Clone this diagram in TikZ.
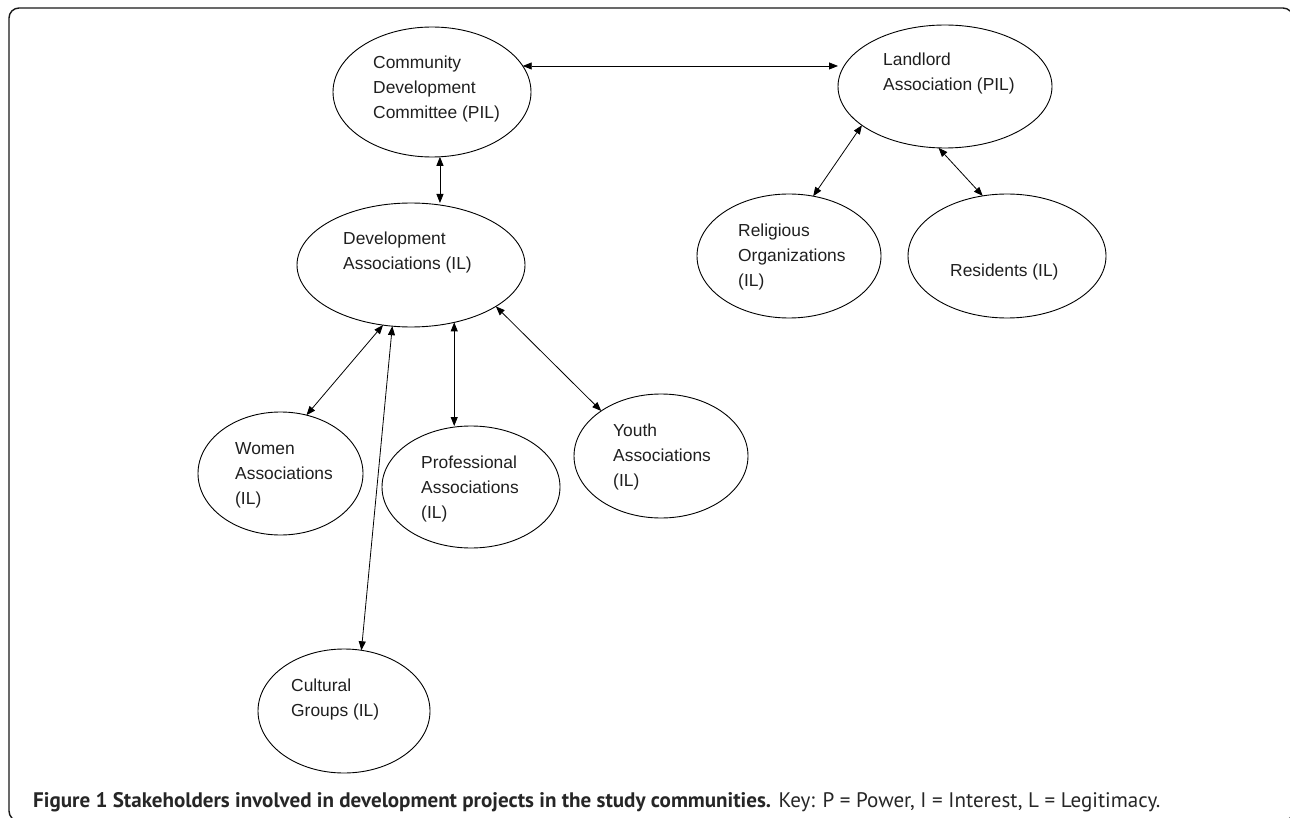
\documentclass[tikz,border=0pt]{standalone}
\usepackage{graphicx}
\usepackage{fontspec}
\setmainfont{Liberation Sans}
\newfontfamily\capfont{PT Sans}
\usetikzlibrary{shapes.geometric,arrows.meta}
\begin{document}
\begin{tikzpicture}[x=1pt,y=-1pt,
  ell/.style={ellipse,draw=black,line width=0.9pt,inner sep=0pt,outer sep=0pt},
  lbl/.style={anchor=base west,align=left,inner sep=0pt,font=\fontsize{17.4}{25}\selectfont,text=black!88},
  link/.style={{Triangle[length=9pt,width=7pt]}-{Triangle[length=9pt,width=7pt]},line width=0.8pt},
  frame/.style={draw=black!90,line width=1.4pt,rounded corners=10pt}
]
\useasboundingbox (0,0) rectangle (1290,818);
\draw[frame] (9,8) rectangle (1293,821);

% ellipses
\node[ell,minimum width=198pt,minimum height=130pt] (cdc) at (432,92) {};
\node[ell,minimum width=214pt,minimum height=123pt] (land) at (945,86.5) {};
\node[ell,minimum width=228pt,minimum height=124pt] (dev) at (411,265) {};
\node[ell,minimum width=184pt,minimum height=124pt] (rel) at (789,256) {};
\node[ell,minimum width=198pt,minimum height=124pt] (res) at (1007,256) {};
\node[ell,minimum width=165pt,minimum height=123pt] (wom) at (280.5,473.5) {};
\node[ell,minimum width=178pt,minimum height=122pt] (pro) at (471,487) {};
\node[ell,minimum width=174pt,minimum height=124pt] (you) at (661,456) {};
\node[ell,minimum width=172pt,minimum height=124pt] (cul) at (344,711) {};

% labels (base = baseline of the last line)
\node[lbl] (tcdc) at (373,119) {Community\\Development\\Committee (PIL)};
\node[lbl] (tland) at (883,91) {Landlord\\Association (PIL)};
\node[lbl] (tdev) at (343,270) {Development\\Associations (IL)};
\node[lbl] (trel) at (738,287) {Religious\\Organizations\\(IL)};
\node[lbl] (tres) at (950,277) {Residents (IL)};
\node[lbl] (twom) at (235,504) {Women\\Associations\\(IL)};
\node[lbl] (tpro) at (421,518) {Professional\\Associations\\(IL)};
\node[lbl] (tyou) at (613,486) {Youth\\Associations\\(IL)};
\node[lbl] (tcul) at (291,716) {Cultural\\Groups (IL)};

% connectors
\draw[link] (cdc.16) -- (cdc.16 -| land.west);
\draw[link] (cdc.-83) -- (cdc.-83 |- dev.north);
\draw[link] (dev.245) -- (wom.66);
\draw[link] (dev.253) -- (cul.74);
\draw[link] (dev.-53) -- (dev.-53 |- pro.north);
\draw[link] (dev.-26) -- (you.143);
\draw[link] (land.205) -- (rel.68);
\draw[link] (land.264) -- (res.112);

% caption
\node[anchor=base west,inner sep=0pt,text=black!85] (cap) at (33,807) {\resizebox{1127pt}{!}{\capfont\textbf{Figure 1 Stakeholders involved in development projects in the study communities.} Key: P = Power, I = Interest, L = Legitimacy.}};
\end{tikzpicture}
\end{document}
